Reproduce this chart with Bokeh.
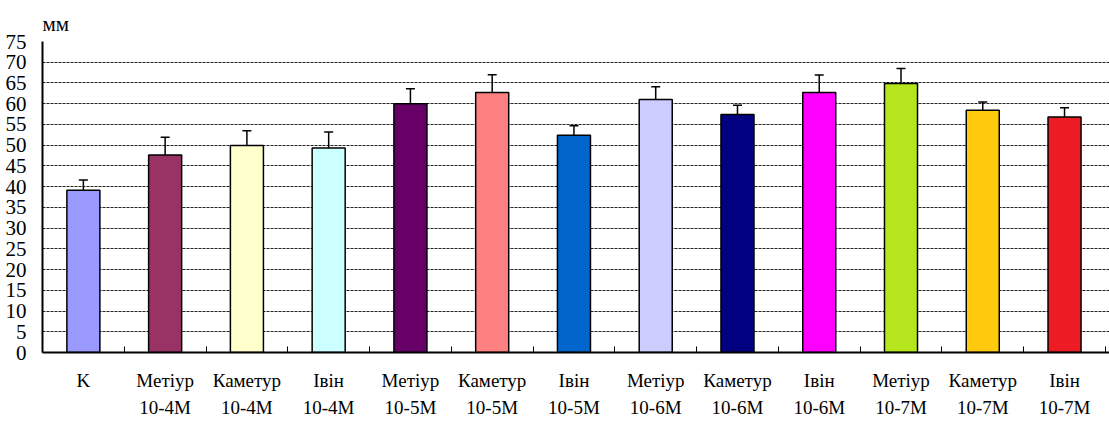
from bokeh.plotting import figure
from bokeh.models import FixedTicker, Whisker, ColumnDataSource, Range1d, TeeHead
from bokeh.embed import file_html
from bokeh.resources import INLINE

categories = ["K", "Метіур\n10-4M", "Каметур\n10-4M", "Івін\n10-4M",
              "Метіур\n10-5M", "Каметур\n10-5M", "Івін\n10-5M",
              "Метіур\n10-6M", "Каметур\n10-6M", "Івін\n10-6M",
              "Метіур\n10-7M", "Каметур\n10-7M", "Івін\n10-7M"]
values = [39.1, 47.6, 49.9, 49.3, 60.0, 62.7, 52.4, 61.0, 57.4, 62.7, 64.9, 58.4, 56.8]
errors = [2.5, 4.3, 3.6, 3.9, 3.6, 4.3, 2.3, 3.1, 2.2, 4.2, 3.6, 2.0, 2.2]
colors = ["#9999FF", "#993366", "#FFFFCC", "#CCFFFF", "#660066", "#FF8080", "#0066CC",
          "#CCCCFF", "#000080", "#FF00FF", "#B5E61D", "#FFC90E", "#ED1C24"]
y_ticks = list(range(0, 80, 5))
unit_label = "мм"

FONT = "Liberation Serif"

n = len(categories)
xs = [i + 0.5 for i in range(n)]
src = ColumnDataSource(dict(
    x=xs, top=values, color=colors,
    upper=[v + e for v, e in zip(values, errors)],
    lower=[v - e for v, e in zip(values, errors)],
))

p = figure(width=1109, height=421, output_backend="svg", toolbar_location=None,
           x_range=Range1d(0, 13.05), y_range=Range1d(0, 75),
           min_border_left=42, min_border_right=0, min_border_top=41, min_border_bottom=67)
p.outline_line_color = None
p.background_fill_color = "white"

p.title.text = unit_label
p.title.text_font = FONT
p.title.text_font_size = "21px"
p.title.text_font_style = "normal"
p.title.text_color = "black"
p.title.align = "left"
p.title.standoff = 11

p.vbar(x="x", top="top", width=0.404, bottom=0, fill_color="color",
       line_color="black", line_width=1.5, source=src)
p.add_layout(Whisker(base="x", upper="upper", lower="lower", source=src,
                     line_color="black", line_width=1.5,
                     upper_head=TeeHead(size=9, line_color="black", line_width=1.5),
                     lower_head=TeeHead(size=9, line_color="black", line_width=1.5)))

# x axis
p.xaxis.ticker = FixedTicker(ticks=xs, minor_ticks=list(range(0, n + 1)))
p.xaxis.major_label_overrides = {x: c for x, c in zip(xs, categories)}
p.xaxis.major_tick_in = 0
p.xaxis.major_tick_out = 0
p.xaxis.minor_tick_in = 6
p.xaxis.minor_tick_out = 0
p.xaxis.minor_tick_line_color = "black"
p.xaxis.minor_tick_line_width = 1
p.xaxis.axis_line_color = "black"
p.xaxis.axis_line_width = 2
p.xaxis.major_label_text_font = FONT
p.xaxis.major_label_text_font_size = "19px"
p.xaxis.major_label_text_color = "black"
p.xaxis.major_label_text_line_height = 1.33
p.xaxis.major_label_standoff = 17

# y axis
p.yaxis.ticker = FixedTicker(ticks=y_ticks)
p.yaxis.major_tick_in = 0
p.yaxis.major_tick_out = 0
p.yaxis.minor_tick_line_color = None
p.yaxis.axis_line_color = "black"
p.yaxis.axis_line_width = 2
p.yaxis.major_label_text_font = FONT
p.yaxis.major_label_text_font_size = "21px"
p.yaxis.major_label_text_color = "black"
p.yaxis.major_label_standoff = 16

p.xgrid.grid_line_color = None
p.ygrid.ticker = FixedTicker(ticks=y_ticks[1:])
p.ygrid.grid_line_color = "#222222"
p.ygrid.grid_line_dash = "3 1"
p.ygrid.grid_line_width = 1

open("out.html", "w").write(file_html(p, INLINE))
